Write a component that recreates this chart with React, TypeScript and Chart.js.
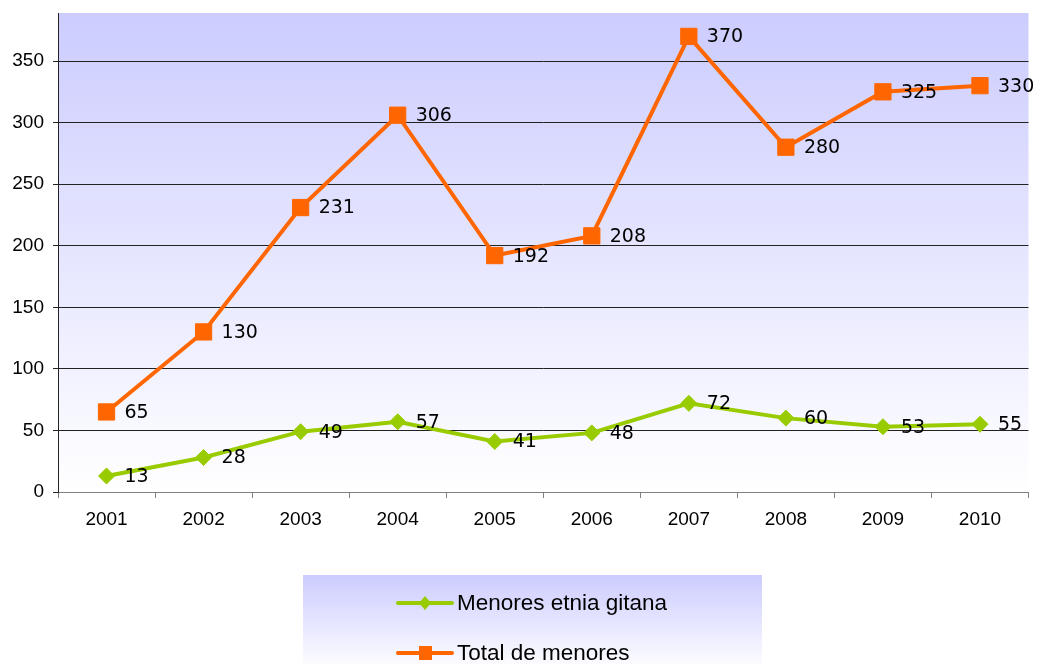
import React, { useEffect, useRef } from "react";
import { Chart, registerables } from "chart.js";

Chart.register(...registerables);

const years = ["2001", "2002", "2003", "2004", "2005", "2006", "2007", "2008", "2009", "2010"];
const gitana = [13, 28, 49, 57, 41, 48, 72, 60, 53, 55];
const total = [65, 130, 231, 306, 192, 208, 370, 280, 325, 330];
const seriesNames = ["Menores etnia gitana", "Total de menores"];
const GREEN = "#99cc00";
const ORANGE = "#ff6600";

const bgPlugin = {
  id: "bgPlugin",
  beforeDraw(chart: any) {
    const { ctx, chartArea } = chart;
    const { left, right, top, bottom } = chartArea;
    ctx.save();
    const g = ctx.createLinearGradient(0, top, 0, bottom);
    g.addColorStop(0, "#ccccff");
    g.addColorStop(1, "#ffffff");
    ctx.fillStyle = g;
    ctx.fillRect(left, top, right - left, bottom - top);
    ctx.restore();
  },
};

const labelPlugin = {
  id: "labelPlugin",
  afterDatasetsDraw(chart: any) {
    const { ctx } = chart;
    ctx.save();
    ctx.font = "19px 'DejaVu Sans'";
    ctx.fillStyle = "#000000";
    ctx.textAlign = "left";
    ctx.textBaseline = "middle";
    chart.data.datasets.forEach((ds: any, di: number) => {
      const meta = chart.getDatasetMeta(di);
      meta.data.forEach((pt: any, i: number) => {
        ctx.fillText(String(ds.data[i]), pt.x + 18, pt.y + 1);
      });
    });
    ctx.restore();
  },
};

const legendPlugin = {
  id: "customLegend",
  afterDraw(chart: any) {
    const { ctx } = chart;
    ctx.save();
    const bx = 303, by = 575, bw = 459, bh = 95;
    const g = ctx.createLinearGradient(0, by, 0, by + bh);
    g.addColorStop(0, "#ccccff");
    g.addColorStop(1, "#ffffff");
    ctx.fillStyle = g;
    ctx.fillRect(bx, by, bw, bh);

    const items = [
      { name: seriesNames[0], color: GREEN, y: 603, shape: "diamond" },
      { name: seriesNames[1], color: ORANGE, y: 653, shape: "square" },
    ];
    items.forEach((it) => {
      ctx.strokeStyle = it.color;
      ctx.lineWidth = 4;
      ctx.lineCap = "round";
      ctx.beginPath();
      ctx.moveTo(398, it.y);
      ctx.lineTo(452, it.y);
      ctx.stroke();
      ctx.fillStyle = it.color;
      if (it.shape === "diamond") {
        ctx.beginPath();
        ctx.moveTo(425, it.y - 7);
        ctx.lineTo(431, it.y);
        ctx.lineTo(425, it.y + 7);
        ctx.lineTo(419, it.y);
        ctx.closePath();
        ctx.fill();
      } else {
        ctx.fillRect(419, it.y - 7, 13, 14);
      }
      ctx.fillStyle = "#000000";
      ctx.font = "22.5px 'Liberation Sans', Arial, sans-serif";
      ctx.textAlign = "left";
      ctx.textBaseline = "middle";
      ctx.fillText(it.name, 457, it.y + 1);
    });
    ctx.restore();
  },
};

export default function App() {
  const ref = useRef<HTMLCanvasElement | null>(null);
  useEffect(() => {
    if (!ref.current) return;
    const chart = new Chart(ref.current, {
      type: "line",
      data: {
        labels: years,
        datasets: [
          {
            label: seriesNames[0],
            data: gitana,
            borderColor: GREEN,
            backgroundColor: GREEN,
            borderWidth: 4,
            pointStyle: "rectRot",
            pointRadius: 8,
            pointBorderWidth: 1,
            tension: 0,
          },
          {
            label: seriesNames[1],
            data: total,
            borderColor: ORANGE,
            backgroundColor: ORANGE,
            borderWidth: 4,
            pointStyle: "rect",
            pointRadius: 11.5,
            pointBorderWidth: 1,
            tension: 0,
          },
        ],
      },
      options: {
        responsive: false,
        animation: false,
        devicePixelRatio: 1,
        layout: { padding: { top: 13, right: 11, left: 0, bottom: 0 } },
        plugins: {
          legend: { display: false },
          tooltip: { enabled: false },
        },
        scales: {
          x: {
            offset: true,
            grid: {
              offset: true,
              drawOnChartArea: false,
              drawTicks: true,
              tickLength: 6,
              color: "#808080",
            },
            border: { color: "#808080", width: 1 },
            ticks: {
              font: { family: "'Liberation Sans', Arial, sans-serif", size: 19 },
              color: "#000000",
              padding: 10,
              maxRotation: 0,
            },
            afterFit(scale: any) {
              scale.height = 172;
              scale.paddingLeft = 0;
              scale.paddingRight = 0;
            },
          },
          y: {
            min: 0,
            max: 389,
            ticks: {
              stepSize: 50,
              font: { family: "'Liberation Sans', Arial, sans-serif", size: 19 },
              color: "#000000",
              padding: 9,
            },
            afterBuildTicks(scale: any) {
              scale.ticks = scale.ticks.filter((t: any) => t.value % 50 === 0);
            },
            grid: {
              color: "#222222",
              lineWidth: 1,
              drawTicks: true,
              tickLength: 5,
            },
            border: { color: "#222222", width: 1 },
            afterFit(scale: any) {
              scale.width = 58;
              scale.paddingTop = 0;
              scale.paddingBottom = 0;
            },
          },
        },
      },
      plugins: [bgPlugin, labelPlugin, legendPlugin],
    });
    return () => chart.destroy();
  }, []);
  return (
    <div style={{ position: "fixed", left: 0, top: 0, width: 1041, height: 664, background: "#ffffff" }}>
      <canvas ref={ref} width={1041} height={664} style={{ display: "block" }} />
    </div>
  );
}
